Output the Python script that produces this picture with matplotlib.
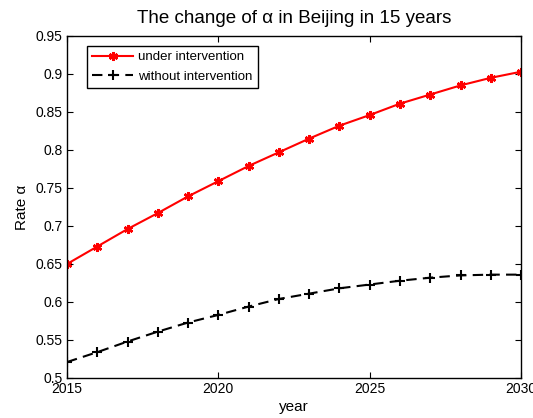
import numpy as np
import matplotlib
matplotlib.use('Agg')
import matplotlib.pyplot as plt

plt.rcParams['font.family'] = ['Liberation Sans', 'DejaVu Sans']

years = np.arange(2015, 2031)
under = [0.650, 0.673, 0.696, 0.717, 0.739, 0.759, 0.779, 0.797,
         0.815, 0.832, 0.846, 0.861, 0.873, 0.885, 0.895, 0.903]
without = [0.521, 0.534, 0.548, 0.561, 0.573, 0.583, 0.594, 0.604,
           0.611, 0.618, 0.623, 0.628, 0.632, 0.635, 0.636, 0.636]
xticks = [2015, 2020, 2025, 2030]
yticks = [0.5, 0.55, 0.6, 0.65, 0.7, 0.75, 0.8, 0.85, 0.9, 0.95]

fig = plt.figure(figsize=(5.33, 4.18), dpi=100)
ax = fig.add_axes([0.1257, 0.0957, 0.852, 0.8182])

ax.plot(years, under, color='red', lw=1.5, marker=(6, 2, 0), ms=6.5, mew=1.8,
        label='under intervention')
ax.plot(years, without, color='black', lw=1.5, ls=(0, (5, 3)), marker='+', ms=7, mew=1.5,
        label='without intervention')

ax.set_xlim(2015, 2030)
ax.set_ylim(0.5, 0.95)
ax.set_xticks(xticks)
ax.set_yticks(yticks)
ax.set_yticklabels([f'{v:g}' for v in yticks])
ax.tick_params(direction='in', top=True, right=True, labelsize=10, length=4)
ax.tick_params(axis='x', pad=3)
ax.tick_params(axis='y', pad=3)
for s in ax.spines.values():
    s.set_linewidth(1.0)

ax.set_xlabel('year', fontsize=11, labelpad=3)
ax.set_ylabel('Rate α', fontsize=11, labelpad=5)
ax.set_title('The change of α in Beijing in 15 years', fontsize=13.5, pad=9)

leg = ax.legend(loc='upper left', bbox_to_anchor=(0.044, 0.971), fontsize=9.5, fancybox=False,
                framealpha=1, edgecolor='black', borderpad=0.4, handlelength=3.1,
                labelspacing=0.55, handletextpad=0.4, borderaxespad=0)
leg.get_frame().set_linewidth(1.0)

fig.savefig('out.png', dpi=100)
